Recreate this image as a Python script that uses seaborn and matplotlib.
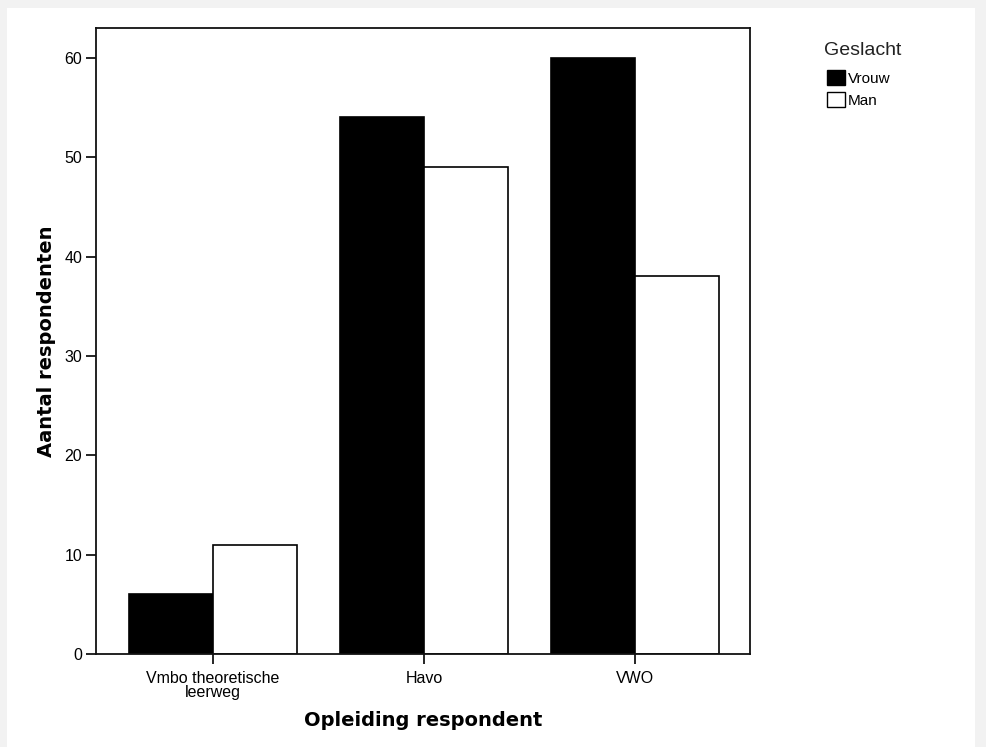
import numpy as np
import pandas as pd
import matplotlib
matplotlib.use('Agg')
import matplotlib.pyplot as plt
import seaborn as sns
from matplotlib.patches import Rectangle, Patch

# data
opleiding = ['Vmbo theoretische\nleerweg', 'Havo', 'VWO']
geslacht = ['Vrouw', 'Man']
vrouw = [6, 54, 60]
man = [11, 49, 38]

df = pd.DataFrame({
    'Opleiding': opleiding * 2,
    'Geslacht': ['Vrouw'] * 3 + ['Man'] * 3,
    'Aantal': vrouw + man,
})

sns.set_style('ticks')
plt.rcParams['font.family'] = ['Liberation Sans', 'DejaVu Sans']
plt.rcParams['text.color'] = 'black'
plt.rcParams['axes.labelcolor'] = 'black'

fig = plt.figure(figsize=(9.87, 7.47), dpi=100, facecolor='#f2f2f2')
# white panel inside the light grey frame
fig.patches.append(Rectangle((7 / 987, 0), (975 - 7) / 987, (747 - 8) / 747,
                             transform=fig.transFigure, facecolor='white',
                             edgecolor='none', zorder=-10))

ax = fig.add_axes([96 / 987, 1 - 654 / 747, (750 - 96) / 987, (654 - 28) / 747])
ax.set_zorder(5)
sns.barplot(data=df, x='Opleiding', y='Aantal', hue='Geslacht',
            palette={'Vrouw': 'black', 'Man': 'white'}, edgecolor='black',
            linewidth=1.2, width=0.8, ax=ax, legend=False)

ax.set_xlim(-0.555, 2.545)
ax.set_ylim(0, 63.0)
ax.set_yticks([0, 10, 20, 30, 40, 50, 60])
for s in ax.spines.values():
    s.set_visible(True)
    s.set_linewidth(1.3)
    s.set_color('#111111')
ax.tick_params(axis='both', direction='out', length=7, width=1.2, labelsize=11.5,
               colors='black', pad=3)
ax.tick_params(axis='x', pad=5)
ax.set_xticks(range(len(opleiding)))
ax.set_xticklabels(opleiding, linespacing=0.95)
ax.set_xlabel('Opleiding respondent', fontsize=14, fontweight='bold',
              family='DejaVu Sans', labelpad=8)
ax.set_ylabel('Aantal respondenten', fontsize=14, fontweight='bold',
              family='DejaVu Sans', labelpad=6)

# legend: title as separate text, entries below it
fig.text(824 / 987, 1 - 55 / 747, 'Geslacht', fontsize=14, color='#222222',
         ha='left', va='baseline')
handles = [Patch(facecolor='black', edgecolor='black', label='Vrouw'),
           Patch(facecolor='white', edgecolor='black', label='Man')]
leg = fig.legend(handles=handles, loc='upper left',
                 bbox_to_anchor=(827 / 987, 1 - 70 / 747), frameon=False,
                 fontsize=11, handlelength=1.18, handleheight=1.18,
                 handletextpad=0.2, labelspacing=0.4,
                 borderpad=0, borderaxespad=0)

fig.savefig('out.png', dpi=100, facecolor=fig.get_facecolor())
